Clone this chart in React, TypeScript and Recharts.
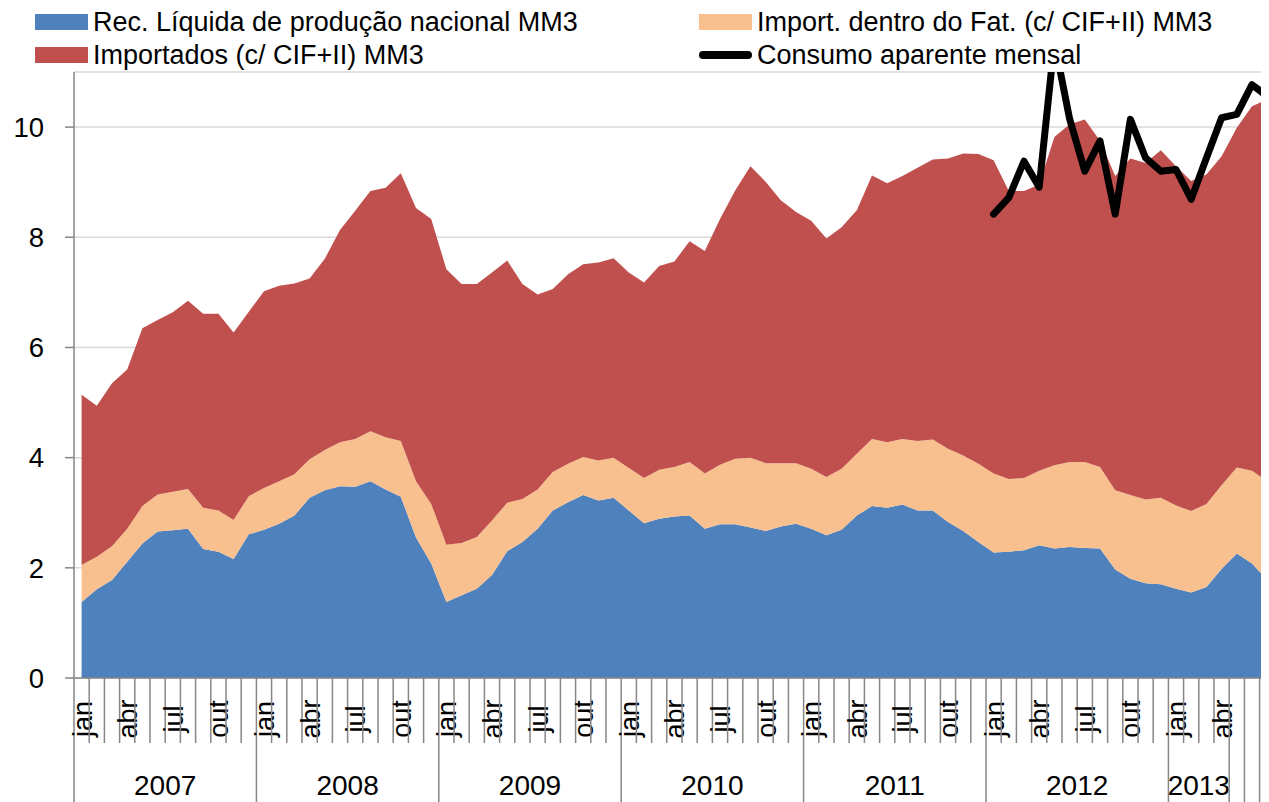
import React from 'react';
import { ComposedChart, Area, Line, XAxis, YAxis, CartesianGrid } from 'recharts';

const YEARS = ['2007', '2008', '2009', '2010', '2011', '2012', '2013'];
const MONTHS_IN_YEAR = [12, 12, 12, 12, 12, 12, 7];
const MONTH_TICKS = ['jan', '', '', 'abr', '', '', 'jul', '', '', 'out', '', ''];
const MONTH_TICKS_2013 = ['jan', '', '', 'abr', '', '', ''];
const YEAR_GROUP_LABELS = ['2007', '2008', '2009', '2010', '2011', '2012', '2013', '', '', ''];
const YEAR_GROUP_SIZES = [12, 12, 12, 12, 12, 12, 4, 1, 1, 1];
const Y_TICKS = [0, 2, 4, 6, 8, 10];

const recLiquida = [
  1.38, 1.61, 1.78, 2.11, 2.44, 2.66, 2.68, 2.71, 2.34, 2.29, 2.16, 2.61,
  2.69, 2.80, 2.95, 3.27, 3.41, 3.48, 3.47, 3.57, 3.42, 3.29, 2.55, 2.08,
  1.38, 1.50, 1.62, 1.87, 2.30, 2.47, 2.71, 3.04, 3.19, 3.32, 3.22, 3.27,
  3.04, 2.81, 2.89, 2.93, 2.95, 2.71, 2.79, 2.79, 2.73, 2.67, 2.75, 2.80,
  2.71, 2.59, 2.69, 2.95, 3.12, 3.09, 3.15, 3.04, 3.04, 2.83, 2.67, 2.47,
  2.28, 2.29, 2.32, 2.41, 2.35, 2.38, 2.36, 2.35, 1.97, 1.80, 1.72, 1.70,
  1.62, 1.55, 1.65, 1.98, 2.26, 2.08, 1.78,
];

const importDentro = [
  0.67, 0.59, 0.61, 0.60, 0.68, 0.67, 0.70, 0.72, 0.75, 0.75, 0.71, 0.69,
  0.76, 0.77, 0.75, 0.70, 0.73, 0.80, 0.87, 0.91, 0.95, 1.01, 1.02, 1.08,
  1.04, 0.95, 0.94, 0.99, 0.88, 0.78, 0.71, 0.70, 0.70, 0.69, 0.73, 0.73,
  0.77, 0.82, 0.89, 0.90, 0.97, 1.00, 1.08, 1.19, 1.27, 1.23, 1.15, 1.10,
  1.09, 1.06, 1.11, 1.12, 1.22, 1.19, 1.19, 1.26, 1.29, 1.33, 1.37, 1.42,
  1.43, 1.32, 1.31, 1.35, 1.51, 1.54, 1.56, 1.48, 1.44, 1.52, 1.52, 1.57,
  1.51, 1.48, 1.51, 1.52, 1.56, 1.68, 1.79,
];

const importados = [
  3.09, 2.74, 2.96, 2.89, 3.23, 3.17, 3.26, 3.42, 3.52, 3.57, 3.40, 3.35,
  3.57, 3.55, 3.46, 3.28, 3.47, 3.85, 4.14, 4.36, 4.53, 4.86, 4.96, 5.17,
  5.00, 4.70, 4.59, 4.50, 4.40, 3.90, 3.54, 3.32, 3.44, 3.50, 3.59, 3.62,
  3.55, 3.55, 3.70, 3.73, 4.01, 4.04, 4.46, 4.87, 5.29, 5.11, 4.77, 4.56,
  4.50, 4.33, 4.38, 4.42, 4.78, 4.70, 4.77, 4.96, 5.08, 5.27, 5.48, 5.62,
  5.69, 5.23, 5.21, 5.20, 5.96, 6.13, 6.22, 5.92, 5.70, 6.11, 6.11, 6.31,
  6.16, 5.99, 5.98, 5.97, 6.17, 6.62, 6.93,
];

// Consumo aparente mensal starts in jan 2012
const CONSUMO_START_YEAR = '2012';
const consumo = [
  8.42, 8.72, 9.38, 8.91, 11.55, 10.15, 9.20, 9.75, 8.42, 10.14, 9.44, 9.20,
  9.23, 8.69, 9.44, 10.17, 10.23, 10.77, 10.56,
];

const BLUE = '#4F81BD';
const PEACH = '#F9C08F';
const RED = '#C0504D';
const AXIS = '#868686';
const FONT = '"Liberation Sans", Arial, sans-serif';

type Row = {
  key: string;
  month: string;
  rec: number;
  dentro: number;
  imp: number;
  consumo: number | null;
};

const data: Row[] = [];
{
  let i = 0;
  let c = -1;
  YEARS.forEach((y, yi) => {
    for (let m = 0; m < MONTHS_IN_YEAR[yi]; m++) {
      if (y === CONSUMO_START_YEAR && m === 0) c = 0;
      const labels = y === '2013' ? MONTH_TICKS_2013 : MONTH_TICKS;
      data.push({
        key: `${y}-${m + 1}`,
        month: labels[m],
        rec: recLiquida[i],
        dentro: importDentro[i],
        imp: importados[i],
        consumo: c >= 0 ? consumo[c] : null,
      });
      if (c >= 0) c++;
      i++;
    }
  });
}

const groupStarts = new Map<number, { label: string; size: number }>();
{
  let s = 0;
  YEAR_GROUP_SIZES.forEach((size, gi) => {
    groupStarts.set(s, { label: YEAR_GROUP_LABELS[gi], size });
    s += size;
  });
}

const MONTH_ROW = 65;
const FULL_ROW = 130;

const AxisTick = (props: any) => {
  const { x, y, payload } = props;
  const i: number = payload?.index ?? props.index;
  const half: number = payload?.offset ?? 7.6;
  const d = data[i];
  const left = x - half;
  const g = groupStarts.get(i);
  return (
    <g>
      <line x1={left} x2={left} y1={y} y2={y + (g ? FULL_ROW : MONTH_ROW)} stroke={AXIS} strokeWidth={1.5} />
      {i === data.length - 1 && (
        <line x1={x + half} x2={x + half} y1={y} y2={y + FULL_ROW} stroke={AXIS} strokeWidth={1.5} />
      )}
      {d && d.month && (
        <text
          transform={`translate(${x + 1},${y + 41}) rotate(-90)`}
          textAnchor="middle"
          dominantBaseline="central"
          fontSize={27}
          fontFamily={FONT}
          fill="#000"
        >
          {d.month}
        </text>
      )}
      {g && g.label && (
        <text
          x={left + g.size * half}
          y={y + 117}
          textAnchor="middle"
          fontSize={28}
          fontFamily={FONT}
          fill="#000"
        >
          {g.label}
        </text>
      )}
    </g>
  );
};

const legendItems = [
  { name: 'Rec. Líquida de produção nacional MM3', color: BLUE, kind: 'box', left: 27, top: 14 },
  { name: 'Importados (c/ CIF+II) MM3', color: RED, kind: 'box', left: 27, top: 47 },
  { name: 'Import. dentro do Fat. (c/ CIF+II) MM3', color: PEACH, kind: 'box', left: 691, top: 14 },
  { name: 'Consumo aparente mensal', color: '#000', kind: 'line', left: 691, top: 47 },
];

export default function App() {
  return (
    <div style={{ position: 'relative', width: 1261, height: 794, fontFamily: FONT }}>
      <div style={{ position: 'absolute', left: 0, top: 0, width: 1261, height: 794, overflow: 'hidden' }}>
        <ComposedChart
          width={1300}
          height={800}
          data={data}
          margin={{ top: 64, right: 33.2, left: 0, bottom: 0 }}
        >
          <CartesianGrid horizontal vertical={false} stroke="#D9D9D9" strokeWidth={1.5} />
          <XAxis
            dataKey="key"
            scale="band"
            interval={0}
            height={FULL_ROW}
            tickLine={false}
            tickSize={0}
            tickMargin={0}
            axisLine={{ stroke: AXIS, strokeWidth: 1.5 }}
            tick={<AxisTick />}
          />
          <YAxis
            width={66}
            domain={[0, 11]}
            ticks={Y_TICKS}
            allowDataOverflow
            axisLine={{ stroke: AXIS, strokeWidth: 1.5 }}
            tickLine={{ stroke: AXIS, strokeWidth: 1.5 }}
            tickSize={9}
            tickMargin={21}
            tick={{ fontSize: 27.5, fontFamily: FONT, fill: '#000' }}
          />
          <Area type="linear" dataKey="rec" stackId="s" stroke="none" fill={BLUE} fillOpacity={1} isAnimationActive={false} />
          <Area type="linear" dataKey="dentro" stackId="s" stroke="none" fill={PEACH} fillOpacity={1} isAnimationActive={false} />
          <Area type="linear" dataKey="imp" stackId="s" stroke="none" fill={RED} fillOpacity={1} isAnimationActive={false} />
          <Line
            type="linear"
            dataKey="consumo"
            stroke="#000"
            strokeWidth={7}
            strokeLinejoin="round"
            strokeLinecap="round"
            dot={false}
            activeDot={false}
            connectNulls={false}
            isAnimationActive={false}
          />
        </ComposedChart>
      </div>
      {legendItems.map((it) => (
        <div
          key={it.name}
          style={{
            position: 'absolute',
            left: it.left,
            top: it.top,
            height: 0,
            display: 'flex',
            alignItems: 'center',
            whiteSpace: 'nowrap',
            fontSize: 27,
            color: '#000',
            lineHeight: 1,
          }}
        >
          {it.kind === 'box' ? (
            <span style={{ display: 'inline-block', width: 53, height: 16, background: it.color, marginRight: 5 }} />
          ) : (
            <span style={{ display: 'inline-block', width: 53, height: 8, borderRadius: 4, background: it.color, marginRight: 5 }} />
          )}
          <span>{it.name}</span>
        </div>
      ))}
    </div>
  );
}
